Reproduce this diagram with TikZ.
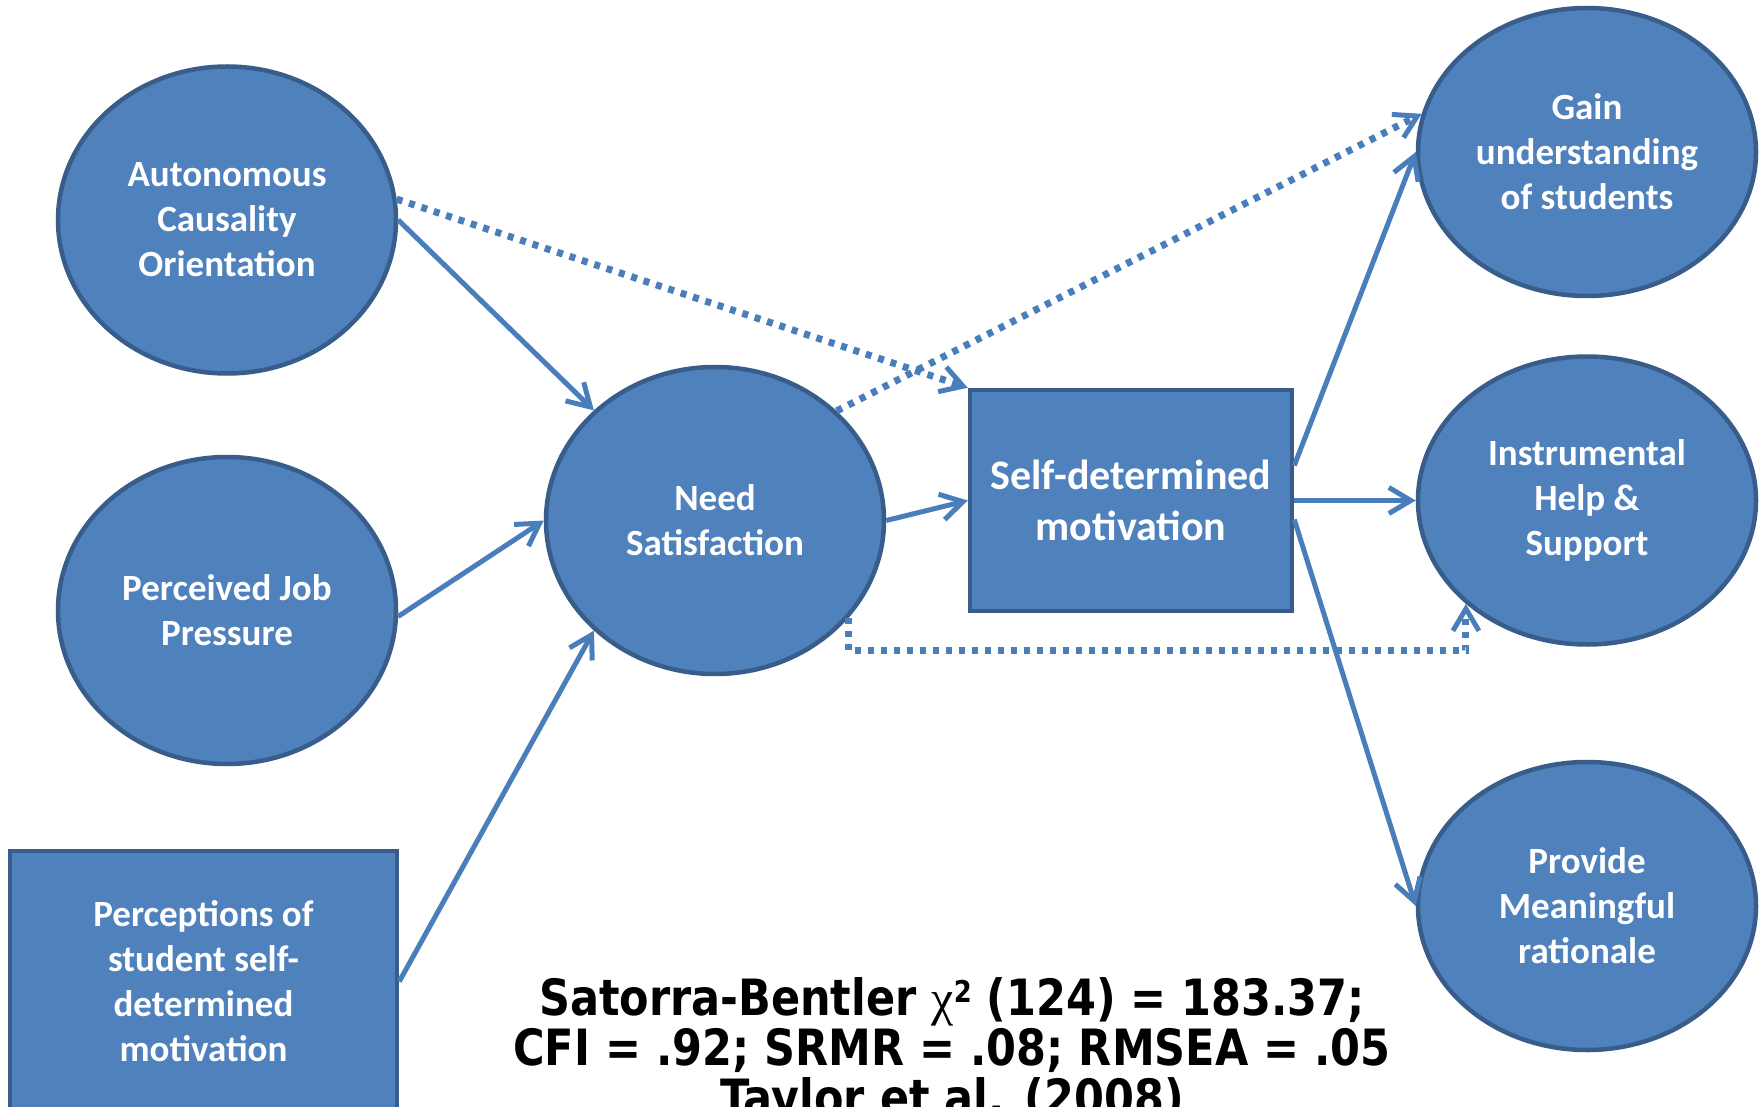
\documentclass[tikz,border=0pt]{standalone}
\usepackage{fontspec}
\setmainfont{Carlito}
\newfontfamily\statfont[FakeStretch=0.86]{DejaVu Sans Bold}
\newfontfamily\greekfont{Liberation Serif}
\usetikzlibrary{shapes.geometric,arrows.meta,calc}
\definecolor{nodefill}{HTML}{4F81BD}
\definecolor{nodeline}{HTML}{385D8A}
\definecolor{linkcol}{HTML}{4A7EBB}
\begin{document}
\begin{tikzpicture}[x=1pt,y=-1pt,
  latent/.style={ellipse, draw=nodeline, fill=nodefill, line width=4.5pt,
    minimum width=338pt, minimum height=307pt, inner sep=0pt,
    text=white, align=center, font=\fontsize{37}{45}\selectfont\bfseries},
  outcome/.style={latent, minimum height=288pt},
  observed/.style={rectangle, draw=nodeline, fill=nodefill, line width=4.5pt,
    inner sep=0pt, text=white, align=center, font=\fontsize{37}{45}\selectfont\bfseries},
  link/.style={draw=linkcol, line width=5pt,
    -{Straight Barb[length=22pt,width=26pt,line width=5pt]}},
  dotlink/.style={link, line width=7pt, dash pattern=on 6pt off 7pt},
]
\useasboundingbox (0,0) rectangle (1762,1107);
\fill[white] (0,0) rectangle (1762,1107);
\clip (0,0) rectangle (1762,1107);

% predictors
\node[latent] (auto) at (227,220) {Autonomous\\Causality\\Orientation};
\node[latent] (perc) at (227,610.5) {Perceived Job\\Pressure};
\node[observed, minimum width=387pt, minimum height=261pt] (pbox) at (203.5,981.5)
  {Perceptions of\\student self-\\determined\\motivation};

% mediators
\node[latent] (need) at (715,520.5) {Need\\Satisfaction};
\node[observed, minimum width=322pt, minimum height=221pt,
  font=\fontsize{42}{51}\selectfont\bfseries] (sd) at (1131,500.5)
  {Self-determined\\motivation};

% outcomes
\node[outcome] (gain) at (1587,152) {Gain\\understanding\\of students};
\node[outcome] (inst) at (1587,500.5) {Instrumental\\Help \&\\Support};
\node[outcome] (prov) at (1587,906) {Provide\\Meaningful\\rationale};

% fit statistics (base anchor sits on the last line)
\node[anchor=base, align=center, inner sep=0pt,
  font=\statfont\fontsize{50}{50}\selectfont] (fit) at (952,1115)
  {Satorra-Bentler {\greekfont\fontsize{50}{50}\selectfont χ}\raisebox{13pt}{\statfont\fontsize{30}{30}\selectfont 2} (124) = 183.37;\\
   CFI = .92; SRMR = .08; RMSEA = .05\\
   Taylor et al. (2008)};

% non-significant paths
\draw[dotlink] (auto.7) -- (sd.north west);
\draw[dotlink] (need.42) -- (gain.167);
\draw[dotlink] (need.-36) |- ($(inst.south west)+(0,47)$) -- (inst.south west);

% significant paths
\draw[link] (auto.east) -- (need.north west);
\draw[link] (perc.-2) -- (need.west);
\draw[link] (pbox.east) -- (need.south west);
\draw[link] (need.east) -- (sd.west);
\draw[link] ($(sd.east)+(0,-35)$) -- (gain.west);
\draw[link] (sd.east) -- (inst.west);
\draw[link] ($(sd.east)+(0,19)$) -- (prov.west);
\end{tikzpicture}
\end{document}
